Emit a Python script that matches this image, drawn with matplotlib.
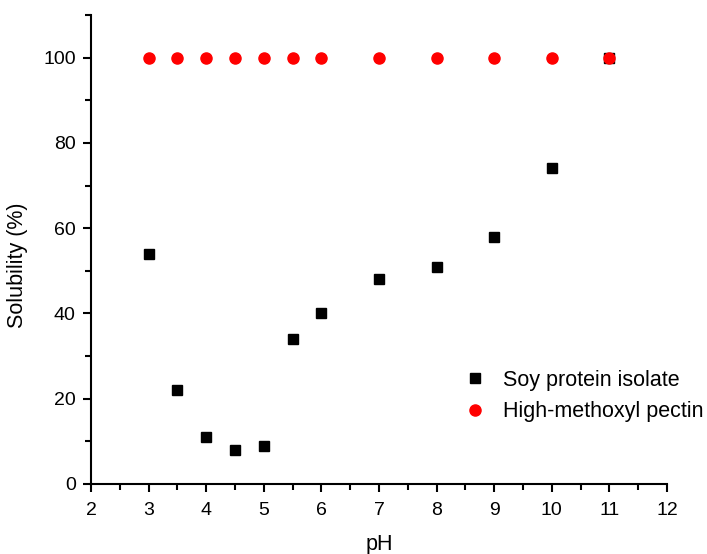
import matplotlib.pyplot as plt
from matplotlib.ticker import MultipleLocator

plt.rcParams['font.family'] = ['Liberation Sans', 'DejaVu Sans']

# pH values and measured solubility
ph = [3, 3.5, 4, 4.5, 5, 5.5, 6, 7, 8, 9, 10, 11]
spi = [54, 22, 11, 8, 9, 34, 40, 48, 51, 58, 74, 100]
hmp = [100, 100, 100, 100, 100, 100, 100, 100, 100, 100, 100, 100]

fig = plt.figure(figsize=(7.07, 5.54), dpi=100)
ax = fig.add_axes([0.1287, 0.1264, 0.8147, 0.8465])

ax.plot(ph, spi, 's', color='black', markersize=7.5, label='Soy protein isolate')
ax.plot(ph, hmp, 'o', color='red', markersize=8, label='High-methoxyl pectin')

ax.set_xlim(2, 12)
ax.set_ylim(0, 110)
ax.xaxis.set_major_locator(MultipleLocator(1))
ax.xaxis.set_minor_locator(MultipleLocator(0.5))
ax.yaxis.set_major_locator(MultipleLocator(20))
ax.yaxis.set_minor_locator(MultipleLocator(10))

for side in ['top', 'right']:
    ax.spines[side].set_visible(False)
for side in ['left', 'bottom']:
    ax.spines[side].set_linewidth(1.5)
ax.tick_params(which='major', direction='out', length=6, width=1.5, labelsize=14, pad=5)
ax.tick_params(axis='x', which='major', pad=7)
ax.tick_params(which='minor', direction='out', length=4, width=1.5)

ax.set_xlabel('pH', fontsize=15.5)
ax.set_ylabel('Solubility (%)', fontsize=15.5)
ax.xaxis.set_label_coords(0.5, -0.130)
ax.xaxis.label.set_verticalalignment('center')
ax.yaxis.set_label_coords(-0.127, 0.467)
ax.yaxis.label.set_verticalalignment('center')

ax.legend(loc='upper left', bbox_to_anchor=(0.629, 0.243), frameon=False,
          fontsize=15.5, handletextpad=0.3, labelspacing=0.47, borderaxespad=0,
          borderpad=0)

fig.savefig('out.png', dpi=100)
